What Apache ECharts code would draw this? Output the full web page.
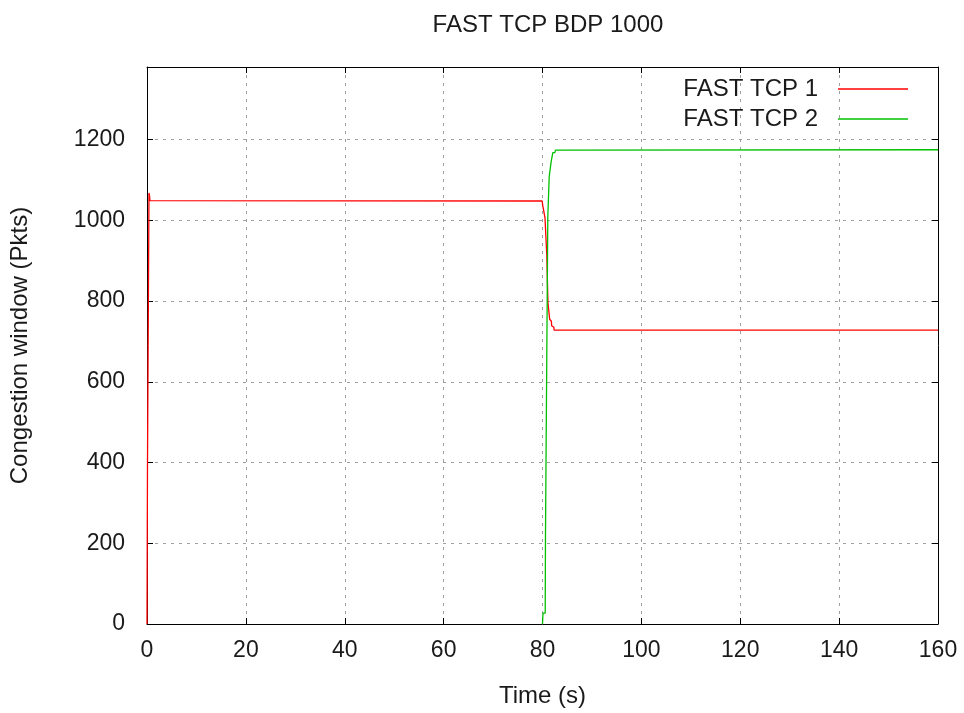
<!DOCTYPE html>
<html>
<head>
<meta charset="utf-8">
<script src="https://cdn.jsdelivr.net/npm/echarts@6/dist/echarts.min.js"></script>
<style>
  html, body { margin: 0; padding: 0; background: #ffffff; }
  #chart { width: 964px; height: 713px; }
</style>
</head>
<body>
<div id="chart"></div>
<script>
// Congestion window traces of two FAST TCP flows (time in s, cwnd in packets)
const flowNames = ['FAST TCP 1', 'FAST TCP 2'];

const flow1Time = [0, 0.05, 0.1, 0.35, 0.4, 0.5, 0.6, 1.0, 79.94, 80.0, 80.2, 80.4, 80.5, 80.8, 80.87, 81.05, 81.1, 81.42, 81.45, 81.8, 81.85, 82.3, 82.35, 160];
const flow1Cwnd = [0, 0, 400, 400, 1068, 1062, 1049, 1048, 1048, 1040, 1037, 1037, 1007, 1007, 913, 913, 797, 797, 755, 750, 739, 735, 728, 728];

const flow2Time = [80.0, 80.1, 80.55, 80.6, 81.0, 81.07, 81.3, 81.36, 81.7, 81.76, 82.0, 82.09, 82.5, 82.63, 83.0, 160];
const flow2Cwnd = [0, 27, 27, 212, 212, 1007, 1007, 1109, 1109, 1146, 1146, 1168, 1168, 1174, 1175, 1175];

const lineColors = ['#ff0000', '#00c000'];

const FONT = 'Liberation Sans, Arial, sans-serif';
const TEXT = '#1a1a1a';

function pairs(ts, vs) { return ts.map((t, i) => [t, vs[i]]); }

const chart = echarts.init(document.getElementById('chart'), null, { renderer: 'canvas' });

const borderLine = { show: true, onZero: false, lineStyle: { color: '#000', width: 1 } };
const innerTick = { show: true, inside: true, length: 6, lineStyle: { color: '#000', width: 1 } };
const dottedGrid = { show: true, lineStyle: { color: '#a0a0a0', width: 1, type: [3, 5] } };
const plainNumber = v => String(v);

chart.setOption({
  animation: false,
  backgroundColor: '#ffffff',
  title: {
    text: 'FAST TCP BDP 1000',
    left: 543,
    top: 8,
    textAlign: 'center',
    textStyle: { fontFamily: FONT, fontSize: 24, fontWeight: 'normal', color: TEXT }
  },
  legend: {
    orient: 'vertical',
    right: 51,
    top: 72,
    align: 'right',
    icon: 'rect',
    itemWidth: 70,
    itemHeight: 1.5,
    itemGap: 6,
    textStyle: { fontFamily: FONT, fontSize: 24, color: TEXT, lineHeight: 24, padding: [0, 15, 0, 0] },
    data: flowNames
  },
  grid: { left: 147, right: 26, top: 67, bottom: 87, containLabel: false },
  xAxis: [
    {
      type: 'value', min: 0, max: 160, interval: 20, position: 'bottom',
      name: 'Time (s)', nameLocation: 'middle', nameGap: 60,
      nameTextStyle: { fontFamily: FONT, fontSize: 24, color: TEXT },
      axisLine: borderLine, axisTick: innerTick, splitLine: dottedGrid,
      axisLabel: { fontFamily: FONT, fontSize: 23, color: TEXT, margin: 15, formatter: plainNumber }
    },
    {
      type: 'value', min: 0, max: 160, interval: 20, position: 'top',
      axisLine: borderLine, axisTick: innerTick, splitLine: { show: false },
      axisLabel: { show: false }
    }
  ],
  yAxis: [
    {
      type: 'value', min: 0, max: 1380, interval: 200, position: 'left',
      name: 'Congestion window (Pkts)', nameLocation: 'middle', nameGap: 115, nameRotate: 90,
      nameTextStyle: { fontFamily: FONT, fontSize: 24, color: TEXT },
      axisLine: borderLine, axisTick: innerTick, splitLine: dottedGrid,
      axisLabel: { fontFamily: FONT, fontSize: 23, color: TEXT, margin: 22, showMaxLabel: false, formatter: plainNumber }
    },
    {
      type: 'value', min: 0, max: 1380, interval: 200, position: 'right',
      axisLine: borderLine, axisTick: innerTick, splitLine: { show: false },
      axisLabel: { show: false }
    }
  ],
  series: [
    {
      name: flowNames[0], type: 'line', xAxisIndex: 0, yAxisIndex: 0,
      showSymbol: false, symbol: 'none', color: lineColors[0],
      lineStyle: { color: lineColors[0], width: 1.3 },
      data: pairs(flow1Time, flow1Cwnd)
    },
    {
      name: flowNames[1], type: 'line', xAxisIndex: 0, yAxisIndex: 0,
      showSymbol: false, symbol: 'none', color: lineColors[1],
      lineStyle: { color: lineColors[1], width: 1.3 },
      data: pairs(flow2Time, flow2Cwnd)
    }
  ]
});
</script>
</body>
</html>
